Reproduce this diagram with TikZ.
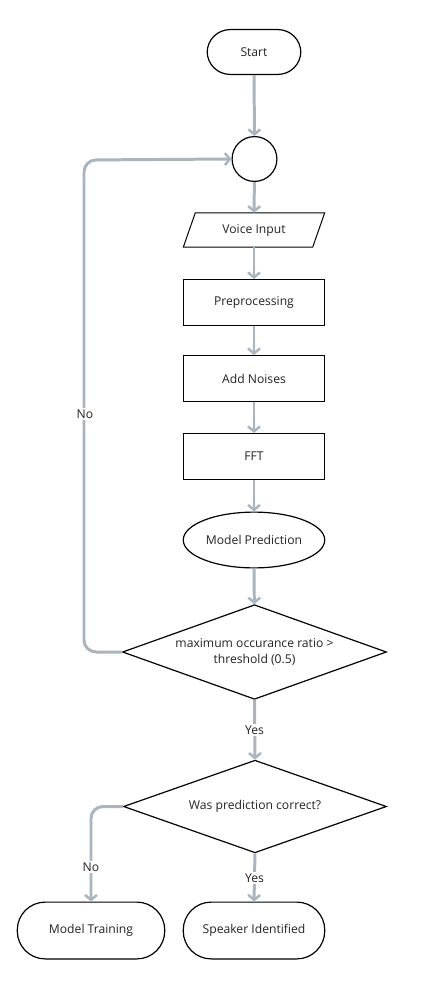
\documentclass[tikz,border=0pt]{standalone}
\usepackage{fontspec}
\setmainfont{Open Sans}
\usetikzlibrary{shapes.geometric,arrows.meta}
\definecolor{conn}{HTML}{A9B6BF}
\definecolor{txt}{HTML}{222222}
\tikzset{
  every node/.style={font=\fontsize{12.2}{15.5}\selectfont, text=txt},
  box/.style={draw=black, line width=1pt, rectangle, minimum width=141pt, minimum height=46pt, inner sep=0pt},
  pill/.style={draw=black, line width=1.2pt, rectangle, rounded corners=23pt, inner sep=0pt},
  oval/.style={draw=black, line width=1.2pt, ellipse, inner sep=0pt},
  decision/.style={draw=black, line width=1.2pt, diamond, inner sep=0pt, align=center},
  arr/.style={draw=conn, line width=3pt, -{Straight Barb[length=5pt,width=12pt,line width=2.5pt]}},
  lbl/.style={fill=white, inner sep=2pt}
}
\begin{document}
\begin{tikzpicture}[x=1bp,y=-1bp]
\useasboundingbox (0,0) rectangle (423,990);
\node[pill, minimum width=94pt, minimum height=45pt] (start) at (254,52) {Start};
\node[circle, draw=black, line width=1.2pt, minimum size=45pt, inner sep=0pt] (circ) at (254.5,159) {};
\node[minimum width=141bp, minimum height=34bp, inner sep=0pt] (voice) at (254,230) {Voice Input};
\draw[black, line width=1pt] ([xshift=12bp]voice.north west) -- (voice.north east) -- ([xshift=-12bp]voice.south east) -- (voice.south west) -- cycle;
\node[box, minimum width=141bp, minimum height=46bp] (pre) at (254,302.5) {Preprocessing};
\node[box, minimum width=141bp, minimum height=46bp] (noise) at (254,378.5) {Add Noises};
\node[box, minimum width=141bp, minimum height=46bp] (fft) at (254,456.5) {FFT};
\node[oval, minimum width=142pt, minimum height=56pt] (model) at (254,540) {Model Prediction};
\node[decision, minimum width=265pt, minimum height=95pt, aspect=2.79] (d1) at (254.5,652) {maximum occurance ratio >\\threshold (0.5)};
\node[decision, minimum width=264pt, minimum height=93pt, aspect=2.84] (d2) at (255,806.5) {Was prediction correct?};
\node[pill, minimum width=148pt, minimum height=57pt, rounded corners=28pt] (train) at (91,930.5) {Model Training};
\node[pill, minimum width=142pt, minimum height=57pt, rounded corners=28pt] (spk) at (254,930.5) {Speaker Identified};

\coordinate (loopA) at (84,652);
\coordinate (loopB) at (84,160);
\coordinate (noA) at (91,806.5);

\draw[arr] (start) -- (circ);
\draw[arr] (circ) -- (voice);
\draw[arr] (voice) -- (pre);
\draw[arr] (pre) -- (noise);
\draw[arr] (noise) -- (fft);
\draw[arr] (fft) -- (model);
\draw[arr] (model) -- (d1);
\draw[arr, rounded corners=12pt] (d1.west) -- (loopA) -- (loopB) -- (circ.west);
\node[lbl] (no1) at (85,414) {No};
\draw[arr] (d1.south) -- (d2.north);
\node[lbl] (yes1) at (254.5,730) {Yes};
\draw[arr, rounded corners=12pt] (d2.west) -- (noA) -- (train.north);
\node[lbl] (no2) at (91,867) {No};
\draw[arr] (d2.south) -- (spk.north);
\node[lbl] (yes2) at (254.5,878) {Yes};
\end{tikzpicture}
\end{document}
